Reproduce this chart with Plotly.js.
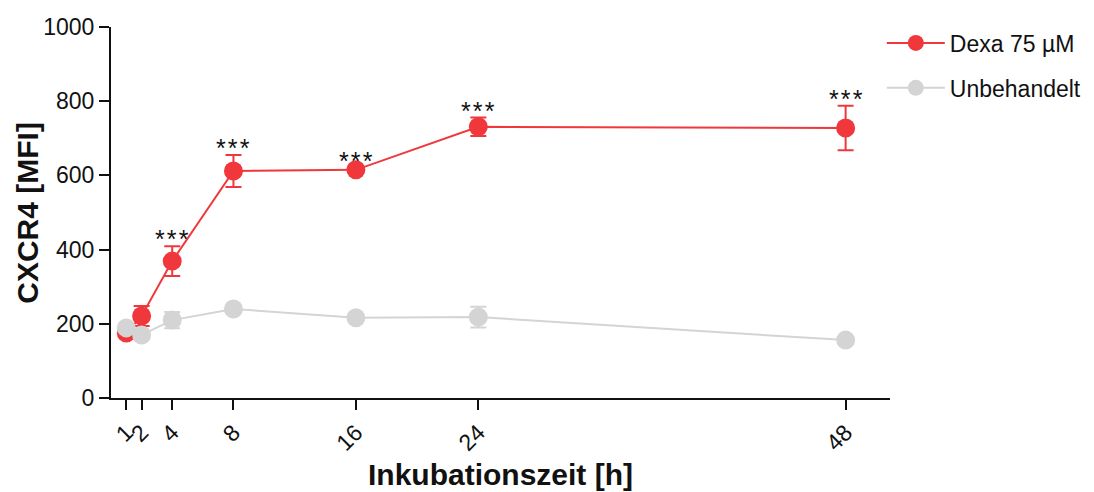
<!DOCTYPE html>
<html>
<head>
<meta charset="utf-8">
<script src="https://cdn.plot.ly/plotly-3.0.1.min.js"></script>
<style>
  html, body { margin: 0; padding: 0; background: #fff; }
  #chart { width: 1094px; height: 492px; }
</style>
</head>
<body>
<div id="chart"></div>
<script>
// Incubation time points (h)
const hours = [1, 2, 4, 8, 16, 24, 48];
const tickLabels = ['1', '2', '4', '8', '16', '24', '48'];

// CXCR4 mean fluorescence intensity with SD
const dexaMean = [175, 221, 369, 612, 615, 731, 728];
const dexaErr  = [6, 27, 40, 43, 6, 25, 60];
const ctrlMean = [189, 170, 210, 240, 216, 218, 156];
const ctrlErr  = [6, 6, 22, 6, 6, 28, 6];

// Significance markers (Dexa vs. untreated)
const significance = ['', '', '***', '***', '***', '***', '***'];

const xTitle = '<b>Inkubationszeit [h]</b>';
const yTitle = '<b>CXCR4 [MFI]</b>';

const red = '#f0383c';
const grey = '#d4d4d4';
const font = 'Liberation Sans, Arial, sans-serif';

const traces = [
  {
    x: hours, y: dexaMean, name: 'Dexa 75 µM', legendrank: 1, legendgroup: 'dexa',
    type: 'scatter', mode: 'lines+markers',
    line: { color: red, width: 2 },
    marker: { color: red, size: 19 },
    error_y: { type: 'data', array: dexaErr, visible: true, color: red, thickness: 2, width: 8 }
  },
  {
    x: hours, y: ctrlMean, name: 'Unbehandelt', legendrank: 2, legendgroup: 'ctrl',
    type: 'scatter', mode: 'lines+markers',
    line: { color: grey, width: 2 },
    marker: { color: grey, size: 19 },
    error_y: { type: 'data', array: ctrlErr, visible: true, color: grey, thickness: 2, width: 8 }
  }
];

// significance stars, slightly spaced apart
const annotations = hours.map((h, i) => ({
  x: h, y: dexaMean[i] + dexaErr[i],
  text: significance[i].split('').join('\u200a'), showarrow: false,
  xanchor: 'center', yanchor: 'bottom', yshift: -9,
  font: { family: font, size: 25, color: '#111' }
})).filter(a => a.text);

// axis titles
annotations.push({
  xref: 'paper', yref: 'paper', x: 0.5, y: -0.205,
  xanchor: 'center', yanchor: 'middle', showarrow: false,
  text: xTitle, font: { family: font, size: 30, color: '#111' }
});
annotations.push({
  xref: 'paper', yref: 'paper', x: -0.1075, y: 0.5,
  xanchor: 'center', yanchor: 'middle', showarrow: false, textangle: -90,
  text: yTitle, font: { family: font, size: 30, color: '#111' }
});

const layout = {
  width: 1094, height: 492,
  margin: { l: 111, r: 204, t: 27, b: 94, autoexpand: false },
  paper_bgcolor: '#fff', plot_bgcolor: '#fff',
  font: { family: font, color: '#111' },
  showlegend: true,
  legend: {
    x: 0.9895, y: 1.015, xanchor: 'left', yanchor: 'top',
    font: { family: font, size: 23, color: '#111' },
    itemwidth: 58, tracegroupgap: 12, traceorder: 'grouped'
  },
  xaxis: {
    range: [0, 50.9], automargin: false,
    tickmode: 'array', tickvals: hours, ticktext: tickLabels,
    tickangle: -45,
    ticks: 'outside', ticklen: 10, tickwidth: 2, tickcolor: '#111',
    showline: true, linecolor: '#111', linewidth: 2,
    showgrid: false, zeroline: false,
    tickfont: { family: font, size: 23, color: '#111' }
  },
  yaxis: {
    range: [0, 1000], automargin: false,
    tickmode: 'array', tickvals: [0, 200, 400, 600, 800, 1000],
    ticks: 'outside', ticklen: 10, tickwidth: 2, tickcolor: '#111',
    showline: true, linecolor: '#111', linewidth: 2,
    showgrid: false, zeroline: false,
    tickfont: { family: font, size: 23, color: '#111' }
  },
  annotations: annotations
};

Plotly.newPlot('chart', traces, layout, { displayModeBar: false, staticPlot: true });
</script>
</body>
</html>
